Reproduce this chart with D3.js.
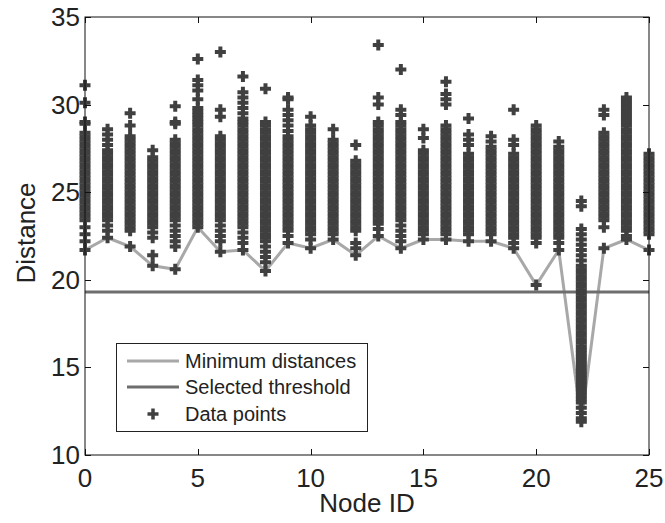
<!DOCTYPE html>
<html lang="en">
<head>
    <meta charset="UTF-8">
    <title>Distance per node</title>
    <style>
        body { margin: 0; background: #fff; }
        text { font-family: "Liberation Sans", Arial, Helvetica, sans-serif; fill: #222; }
    </style>
</head>
<body>
<script src="https://cdn.jsdelivr.net/npm/d3@7/dist/d3.min.js"></script>
<script>

    // distances of all data points, one array per node id (0..25)
    var points = [
        [31.1, 30.1, 29.0, 28.9, 28.4, 28.2, 28.0, 27.8, 27.6, 27.4, 27.2, 27.0, 26.8, 26.6, 26.4, 26.2, 26.0, 25.8, 25.6, 25.4, 25.2, 25.0, 24.8, 24.6, 24.4, 24.2, 24.0, 23.8, 23.6, 23.4, 23.0, 22.6, 22.2, 21.7],
        [28.6, 28.3, 28.0, 27.7, 27.4, 27.2, 27.0, 26.8, 26.6, 26.4, 26.2, 26.0, 25.8, 25.6, 25.4, 25.2, 25.0, 24.8, 24.6, 24.4, 24.2, 24.0, 23.8, 23.6, 23.4, 23.1, 22.8, 22.4],
        [29.5, 28.8, 28.2, 28.0, 27.8, 27.6, 27.4, 27.2, 27.0, 26.8, 26.6, 26.4, 26.2, 26.0, 25.8, 25.6, 25.4, 25.2, 25.0, 24.8, 24.6, 24.4, 24.2, 24.0, 23.8, 23.6, 23.4, 23.2, 23.0, 22.8, 21.9],
        [27.4, 27.0, 26.8, 26.6, 26.4, 26.2, 26.0, 25.8, 25.6, 25.4, 25.2, 25.0, 24.8, 24.6, 24.4, 24.2, 24.0, 23.8, 23.6, 23.4, 23.2, 23.0, 22.7, 22.4, 21.4, 20.8],
        [29.9, 29.0, 28.9, 28.0, 27.8, 27.6, 27.4, 27.2, 27.0, 26.8, 26.6, 26.4, 26.2, 26.0, 25.8, 25.6, 25.4, 25.2, 25.0, 24.8, 24.6, 24.4, 24.2, 24.0, 23.8, 23.6, 23.4, 23.1, 22.8, 22.5, 22.2, 21.9, 20.6],
        [32.6, 31.4, 31.1, 30.8, 30.3, 29.8, 29.6, 29.4, 29.2, 29.0, 28.8, 28.6, 28.4, 28.2, 28.0, 27.8, 27.6, 27.4, 27.2, 27.0, 26.8, 26.6, 26.4, 26.2, 26.0, 25.8, 25.6, 25.4, 25.2, 25.0, 24.8, 24.6, 24.4, 24.2, 24.0, 23.8, 23.6, 23.4, 23.2, 23.0],
        [33.0, 29.7, 29.3, 28.2, 28.0, 27.8, 27.6, 27.4, 27.2, 27.0, 26.8, 26.6, 26.4, 26.2, 26.0, 25.8, 25.6, 25.4, 25.2, 25.0, 24.8, 24.6, 24.4, 24.2, 24.0, 23.8, 23.6, 23.4, 23.1, 22.8, 22.5, 22.2, 21.6],
        [31.6, 30.7, 30.4, 30.1, 29.8, 29.5, 29.2, 29.0, 28.8, 28.6, 28.4, 28.2, 28.0, 27.8, 27.6, 27.4, 27.2, 27.0, 26.8, 26.6, 26.4, 26.2, 26.0, 25.8, 25.6, 25.4, 25.2, 25.0, 24.8, 24.6, 24.4, 24.2, 24.0, 23.8, 23.6, 23.4, 23.2, 23.0, 22.7, 22.4, 22.1, 21.7],
        [30.9, 29.0, 28.8, 28.6, 28.4, 28.2, 28.0, 27.8, 27.6, 27.4, 27.2, 27.0, 26.8, 26.6, 26.4, 26.2, 26.0, 25.8, 25.6, 25.4, 25.2, 25.0, 24.8, 24.6, 24.4, 24.2, 24.0, 23.8, 23.6, 23.4, 23.2, 23.0, 22.8, 22.6, 22.4, 22.2, 21.9, 21.6, 21.3, 21.0, 20.5],
        [30.4, 30.3, 29.7, 29.4, 29.1, 28.8, 28.5, 28.2, 28.0, 27.8, 27.6, 27.4, 27.2, 27.0, 26.8, 26.6, 26.4, 26.2, 26.0, 25.8, 25.6, 25.4, 25.2, 25.0, 24.8, 24.6, 24.4, 24.2, 24.0, 23.8, 23.6, 23.4, 23.2, 23.0, 22.8, 22.5, 22.1],
        [29.3, 28.8, 28.6, 28.4, 28.2, 28.0, 27.8, 27.6, 27.4, 27.2, 27.0, 26.8, 26.6, 26.4, 26.2, 26.0, 25.8, 25.6, 25.4, 25.2, 25.0, 24.8, 24.6, 24.4, 24.2, 24.0, 23.8, 23.6, 23.4, 23.2, 23.0, 22.8, 22.6, 22.3, 21.8],
        [28.6, 28.0, 27.8, 27.6, 27.4, 27.2, 27.0, 26.8, 26.6, 26.4, 26.2, 26.0, 25.8, 25.6, 25.4, 25.2, 25.0, 24.8, 24.6, 24.4, 24.2, 24.0, 23.8, 23.6, 23.4, 23.2, 23.0, 22.8, 22.6, 22.3],
        [27.7, 26.8, 26.6, 26.4, 26.2, 26.0, 25.8, 25.6, 25.4, 25.2, 25.0, 24.8, 24.6, 24.4, 24.2, 24.0, 23.8, 23.6, 23.4, 23.2, 23.0, 22.8, 22.1, 21.8, 21.4],
        [33.4, 30.4, 30.0, 29.0, 28.8, 28.6, 28.4, 28.2, 28.0, 27.8, 27.6, 27.4, 27.2, 27.0, 26.8, 26.6, 26.4, 26.2, 26.0, 25.8, 25.6, 25.4, 25.2, 25.0, 24.8, 24.6, 24.4, 24.2, 24.0, 23.8, 23.6, 23.4, 23.2, 22.9, 22.5],
        [32.0, 29.7, 29.4, 29.0, 28.8, 28.6, 28.4, 28.2, 28.0, 27.8, 27.6, 27.4, 27.2, 27.0, 26.8, 26.6, 26.4, 26.2, 26.0, 25.8, 25.6, 25.4, 25.2, 25.0, 24.8, 24.6, 24.4, 24.2, 24.0, 23.8, 23.6, 23.4, 23.1, 22.8, 22.5, 22.2, 21.8],
        [28.6, 28.1, 27.4, 27.2, 27.0, 26.8, 26.6, 26.4, 26.2, 26.0, 25.8, 25.6, 25.4, 25.2, 25.0, 24.8, 24.6, 24.4, 24.2, 24.0, 23.8, 23.6, 23.4, 23.2, 23.0, 22.8, 22.6, 22.3],
        [31.3, 30.6, 30.3, 30.0, 28.8, 28.6, 28.4, 28.2, 28.0, 27.8, 27.6, 27.4, 27.2, 27.0, 26.8, 26.6, 26.4, 26.2, 26.0, 25.8, 25.6, 25.4, 25.2, 25.0, 24.8, 24.6, 24.4, 24.2, 24.0, 23.8, 23.6, 23.4, 23.2, 23.0, 22.8, 22.6, 22.3],
        [29.2, 28.3, 28.0, 27.7, 27.2, 27.0, 26.8, 26.6, 26.4, 26.2, 26.0, 25.8, 25.6, 25.4, 25.2, 25.0, 24.8, 24.6, 24.4, 24.2, 24.0, 23.8, 23.6, 23.4, 23.2, 23.0, 22.8, 22.6, 22.2],
        [28.2, 27.9, 27.6, 27.4, 27.2, 27.0, 26.8, 26.6, 26.4, 26.2, 26.0, 25.8, 25.6, 25.4, 25.2, 25.0, 24.8, 24.6, 24.4, 24.2, 24.0, 23.8, 23.6, 23.4, 23.2, 23.0, 22.8, 22.6, 22.2],
        [29.7, 28.0, 27.7, 27.2, 27.0, 26.8, 26.6, 26.4, 26.2, 26.0, 25.8, 25.6, 25.4, 25.2, 25.0, 24.8, 24.6, 24.4, 24.2, 24.0, 23.8, 23.6, 23.4, 23.2, 23.0, 22.8, 22.6, 22.4, 22.1, 21.8],
        [28.8, 28.6, 28.4, 28.2, 28.0, 27.8, 27.6, 27.4, 27.2, 27.0, 26.8, 26.6, 26.4, 26.2, 26.0, 25.8, 25.6, 25.4, 25.2, 25.0, 24.8, 24.6, 24.4, 24.2, 24.0, 23.8, 23.6, 23.4, 23.2, 23.0, 22.8, 22.6, 22.4, 22.1, 19.7],
        [27.9, 27.6, 27.4, 27.2, 27.0, 26.8, 26.6, 26.4, 26.2, 26.0, 25.8, 25.6, 25.4, 25.2, 25.0, 24.8, 24.6, 24.4, 24.2, 24.0, 23.8, 23.6, 23.4, 23.2, 23.0, 22.8, 22.6, 22.4, 22.1, 21.7],
        [24.5, 24.2, 22.9, 22.6, 22.3, 22.0, 21.7, 21.4, 21.1, 20.8, 20.6, 20.4, 20.2, 20.0, 19.8, 19.6, 19.4, 19.2, 19.0, 18.8, 18.6, 18.4, 18.2, 18.0, 17.8, 17.6, 17.4, 17.2, 17.0, 16.8, 16.6, 16.4, 16.2, 16.0, 15.8, 15.6, 15.4, 15.2, 15.0, 14.8, 14.6, 14.4, 14.2, 14.0, 13.8, 13.6, 13.4, 13.2, 13.0, 12.7, 12.4, 12.1, 11.9],
        [29.7, 29.4, 28.4, 28.2, 28.0, 27.8, 27.6, 27.4, 27.2, 27.0, 26.8, 26.6, 26.4, 26.2, 26.0, 25.8, 25.6, 25.4, 25.2, 25.0, 24.8, 24.6, 24.4, 24.2, 24.0, 23.8, 23.6, 23.4, 23.0, 21.8],
        [30.4, 30.2, 30.0, 29.8, 29.6, 29.4, 29.2, 29.0, 28.8, 28.6, 28.4, 28.2, 28.0, 27.8, 27.6, 27.4, 27.2, 27.0, 26.8, 26.6, 26.4, 26.2, 26.0, 25.8, 25.6, 25.4, 25.2, 25.0, 24.8, 24.6, 24.4, 24.2, 24.0, 23.8, 23.6, 23.4, 23.2, 23.0, 22.8, 22.5, 22.3],
        [27.2, 27.0, 26.8, 26.6, 26.4, 26.2, 26.0, 25.8, 25.6, 25.4, 25.2, 25.0, 24.8, 24.6, 24.4, 24.2, 24.0, 23.8, 23.6, 23.4, 23.2, 23.0, 22.8, 22.6, 21.7]
    ];

    var minDist = [21.7, 22.4, 21.9, 20.8, 20.6, 23.0, 21.6, 21.7, 20.5, 22.1, 21.8, 22.3, 21.4,
                   22.5, 21.8, 22.3, 22.3, 22.2, 22.2, 21.8, 19.7, 21.7, 11.9, 21.8, 22.3, 21.7];

    var threshold = 19.3;

    var xTicks = [0, 5, 10, 15, 20, 25];
    var yTicks = [10, 15, 20, 25, 30, 35];

    var legendLabels = ["Minimum distances", "Selected threshold", "Data points"];

    var width = 665, height = 523;
    var pLeft = 85, pRight = 649, pTop = 17, pBottom = 455;

    var svg = d3.select("body").append("svg")
        .attr("width", width)
        .attr("height", height);

    var x = d3.scaleLinear().domain([0, 25]).range([pLeft, pRight]);
    var y = d3.scaleLinear().domain([10, 35]).range([pBottom, pTop]);

    var plusPath = "M-5.5,0H5.5M0,-5.5V5.5";
    var dark = "#404040";

    var gPlot = svg.append("g");

    // minimum distance line
    var line = d3.line()
        .x(function(d, i){ return x(i); })
        .y(function(d){ return y(d); });

    gPlot.append("path")
        .datum(minDist)
        .attr("d", line)
        .attr("fill", "none")
        .attr("stroke", "#a8a8a8")
        .attr("stroke-width", 3);

    // threshold
    gPlot.append("line")
        .attr("x1", pLeft).attr("x2", pRight)
        .attr("y1", y(threshold)).attr("y2", y(threshold))
        .attr("stroke", "#6e6e6e")
        .attr("stroke-width", 3);

    // data points (markers are not clipped, like matlab)
    var flat = [];
    points.forEach(function(arr, i){
        arr.forEach(function(v){ flat.push({id: i, d: v}); });
    });

    gPlot.selectAll("path.pt")
        .data(flat)
        .enter()
        .append("path")
        .attr("class", "pt")
        .attr("d", plusPath)
        .attr("transform", function(d){ return "translate(" + x(d.id) + "," + y(d.d) + ")"; })
        .attr("stroke", dark)
        .attr("stroke-width", 4)
        .attr("fill", "none");

    // axes (box with ticks inside)
    var gAxis = svg.append("g");

    gAxis.append("rect")
        .attr("x", pLeft).attr("y", pTop)
        .attr("width", pRight - pLeft).attr("height", pBottom - pTop)
        .attr("fill", "none")
        .attr("stroke", "#111")
        .attr("stroke-width", 1);

    var tickLen = 6;

    gAxis.selectAll(".xt")
        .data(xTicks)
        .enter()
        .append("path")
        .attr("d", function(d){
            var px = Math.round(x(d)) + 0.5;
            return "M" + px + "," + pBottom + "V" + (pBottom - tickLen) +
                   "M" + px + "," + pTop + "V" + (pTop + tickLen);
        })
        .attr("stroke", "#111");

    gAxis.selectAll(".yt")
        .data(yTicks)
        .enter()
        .append("path")
        .attr("d", function(d){
            var py = Math.round(y(d)) + 0.5;
            return "M" + pLeft + "," + py + "H" + (pLeft + tickLen) +
                   "M" + pRight + "," + py + "H" + (pRight - tickLen);
        })
        .attr("stroke", "#111");

    gAxis.selectAll(".xl")
        .data(xTicks)
        .enter()
        .append("text")
        .attr("x", function(d){ return x(d); })
        .attr("y", 487)
        .attr("text-anchor", "middle")
        .style("font-size", "26px")
        .text(function(d){ return d; });

    gAxis.selectAll(".yl")
        .data(yTicks)
        .enter()
        .append("text")
        .attr("x", 80)
        .attr("y", function(d){ return y(d) + 9; })
        .attr("text-anchor", "end")
        .style("font-size", "26px")
        .text(function(d){ return d; });

    svg.append("text")
        .attr("x", (pLeft + pRight) / 2)
        .attr("y", 512)
        .attr("text-anchor", "middle")
        .style("font-size", "26px")
        .text("Node ID");

    svg.append("text")
        .attr("transform", "translate(35," + 233 + ") rotate(-90)")
        .attr("text-anchor", "middle")
        .style("font-size", "26px")
        .text("Distance");

    // legend
    var gLegend = svg.append("g");
    gLegend.append("rect")
        .attr("x", 116.5).attr("y", 343.5)
        .attr("width", 251).attr("height", 88)
        .attr("fill", "#fff")
        .attr("stroke", "#222");

    var rowY = [361, 387, 414];
    gLegend.append("line")
        .attr("x1", 127).attr("x2", 179)
        .attr("y1", rowY[0]).attr("y2", rowY[0])
        .attr("stroke", "#a8a8a8").attr("stroke-width", 3);
    gLegend.append("line")
        .attr("x1", 127).attr("x2", 179)
        .attr("y1", rowY[1]).attr("y2", rowY[1])
        .attr("stroke", "#6e6e6e").attr("stroke-width", 3);
    gLegend.append("path")
        .attr("d", plusPath)
        .attr("transform", "translate(153," + rowY[2] + ")")
        .attr("stroke", dark).attr("stroke-width", 3.5);

    gLegend.selectAll(".lt")
        .data(legendLabels)
        .enter()
        .append("text")
        .attr("x", 185)
        .attr("y", function(d, i){ return rowY[i] + 7; })
        .style("font-size", "20px")
        .text(function(d){ return d; });

</script>
</body>
</html>
